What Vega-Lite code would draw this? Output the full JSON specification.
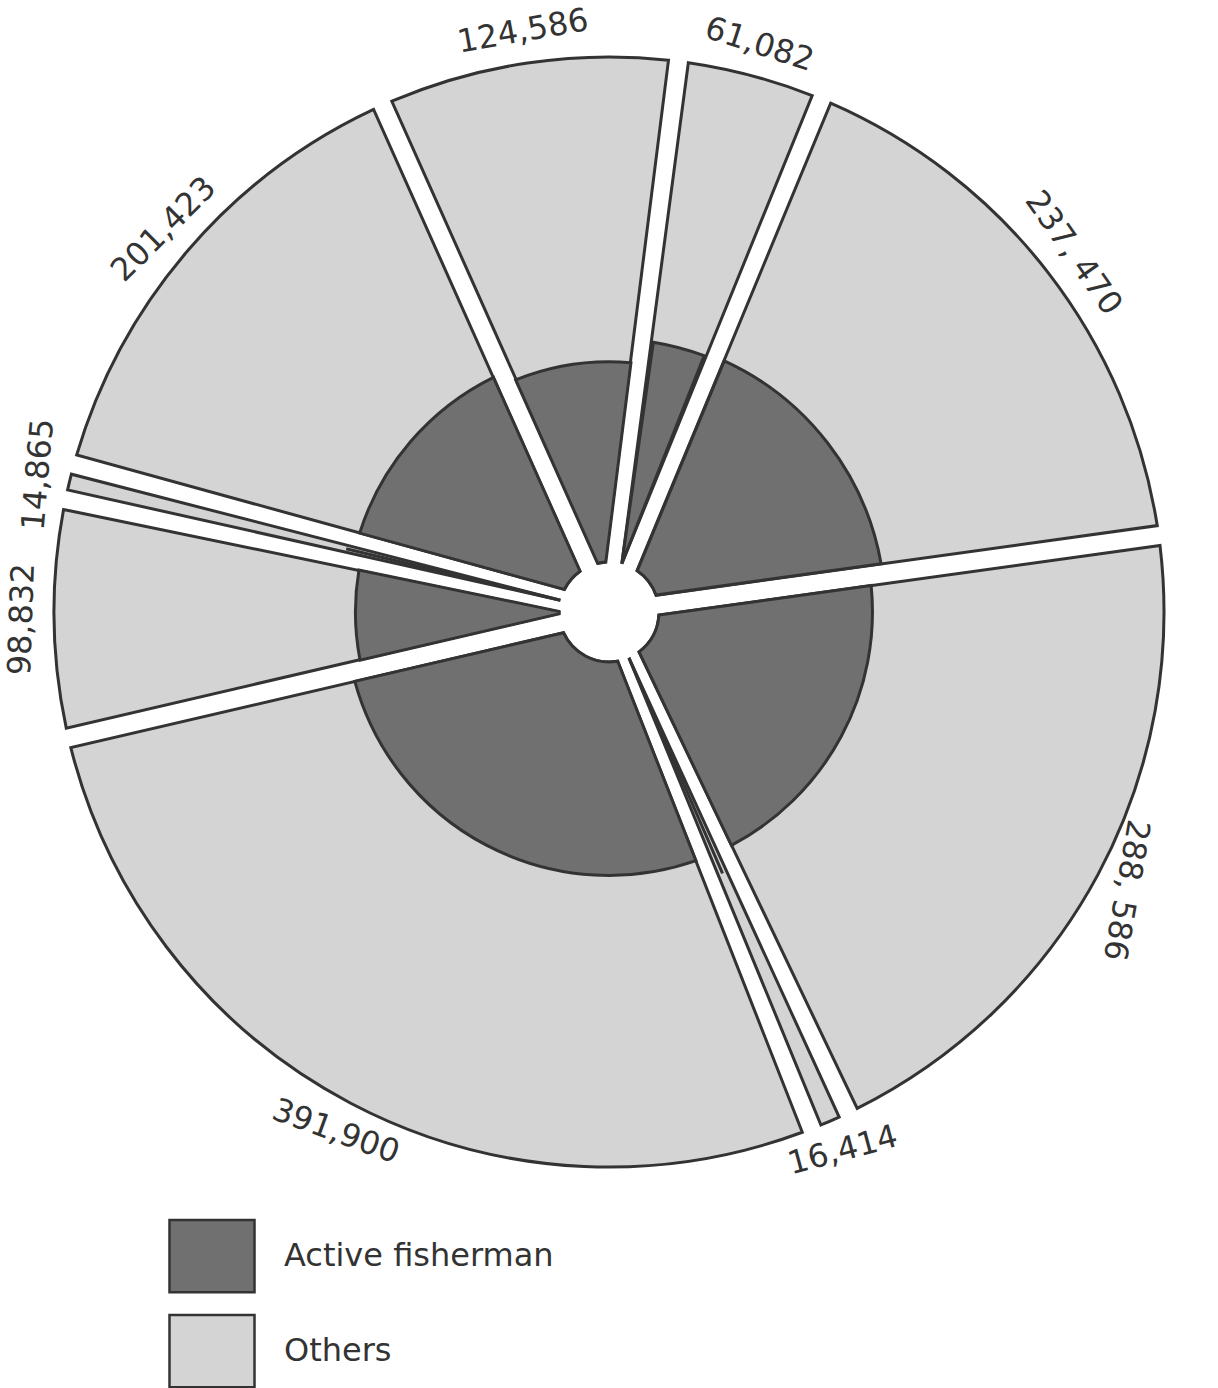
{
  "$schema": "https://vega.github.io/schema/vega-lite/v6.json",
  "width": 1218,
  "height": 1224,
  "autosize": {"type": "none"},
  "padding": {"left": 0, "top": 0, "right": 0, "bottom": 164},
  "background": "white",
  "config": {"view": {"stroke": null}},
  "data": {
    "values": [
      {"order": 1, "label": "124,586", "total": 124586, "active_share": 0.104},
      {"order": 2, "label": "61,082", "total": 61082, "active_share": 0.14},
      {"order": 3, "label": "237, 470", "total": 237470, "active_share": 0.145},
      {"order": 4, "label": "288, 586", "total": 288586, "active_share": 0.124},
      {"order": 5, "label": "16,414", "total": 16414, "active_share": 0.16},
      {"order": 6, "label": "391,900", "total": 391900, "active_share": 0.124},
      {"order": 7, "label": "98,832", "total": 98832, "active_share": 0.109},
      {"order": 8, "label": "14,865", "total": 14865, "active_share": 0.135},
      {"order": 9, "label": "201,423", "total": 201423, "active_share": 0.121}
    ]
  },
  "transform": [
    {"stack": "total", "groupby": [], "sort": [{"field": "order", "order": "ascending"}], "as": ["t0", "t1"]}
  ],
  "layer": [
    {
      "mark": {"type": "arc", "innerRadius": 50, "padAngle": 0.0359, "stroke": "#333333", "strokeWidth": 3},
      "encoding": {
        "theta": {"field": "t0", "type": "quantitative", "stack": null, "scale": {"domain": [0, 1435158], "range": [-0.42, 5.8632]}},
        "theta2": {"field": "t1"},
        "radius": {"datum": 1, "type": "quantitative", "scale": {"type": "sqrt", "domain": [0, 1], "range": [105, 555]}},
        "fill": {
          "datum": "Others",
          "type": "nominal",
          "scale": {"domain": ["Active fisherman", "Others"], "range": ["#707070", "#d4d4d4"]},
          "legend": {
            "title": null,
            "orient": "none",
            "legendX": 168,
            "legendY": 1212,
            "symbolType": "M-1,-0.85H1V0.85H-1Z",
            "symbolSize": 7225,
            "symbolStrokeColor": "#333333",
            "symbolStrokeWidth": 2.5,
            "labelFont": "DejaVu Sans",
            "labelFontSize": 32,
            "labelColor": "#333333",
            "labelOffset": 28,
            "labelLimit": 600,
            "rowPadding": 9
          }
        }
      }
    },
    {
      "mark": {"type": "arc", "innerRadius": 50, "padAngle": 0.0737, "stroke": "#333333", "strokeWidth": 3},
      "encoding": {
        "theta": {"field": "t0", "type": "quantitative", "stack": null},
        "theta2": {"field": "t1"},
        "radius": {"field": "active_share", "type": "quantitative"},
        "fill": {"datum": "Active fisherman", "type": "nominal"}
      }
    },
    {
      "mark": {"type": "text", "radiusOffset": 32, "font": "DejaVu Sans", "fontSize": 32, "align": "center", "baseline": "middle", "fill": "#333333"},
      "encoding": {
        "theta": {"field": "total", "type": "quantitative", "stack": true},
        "order": {"field": "order", "type": "quantitative"},
        "radius": {"datum": 1, "type": "quantitative"},
        "text": {"field": "label", "type": "nominal"},
        "angle": {
          "field": "order",
          "type": "quantitative",
          "scale": {"domain": [1, 2, 3, 4, 5, 6, 7, 8, 9], "range": [-10, 18, 55, 100, -15, 20, -88, -85, -45]},
          "legend": null
        }
      }
    }
  ]
}
